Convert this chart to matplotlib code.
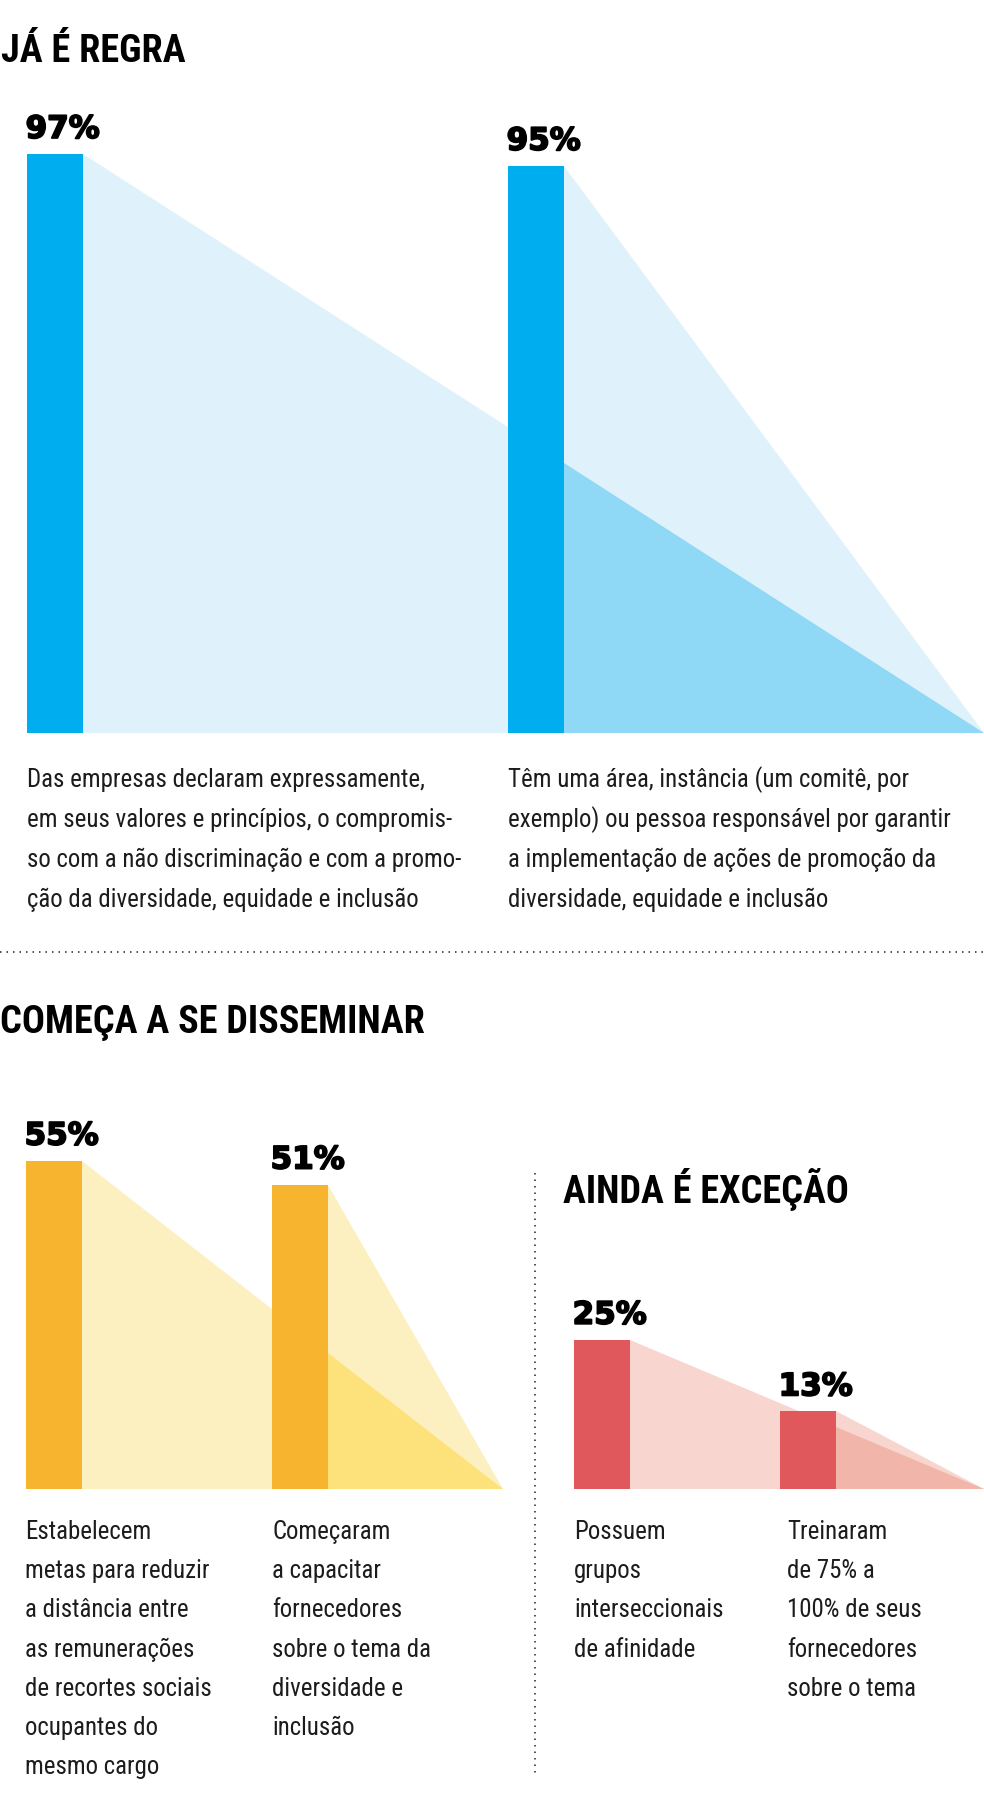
import matplotlib
matplotlib.use("Agg")
import matplotlib.pyplot as plt
from matplotlib import font_manager
from matplotlib.font_manager import FontProperties
from matplotlib.lines import Line2D
import matplotlib.patheffects as pe

# ---------------- data ----------------
regra_values = [97, 95]
regra_labels = ["97%", "95%"]
regra_texts = [
    ["Das empresas declaram expressamente,",
     "em seus valores e princípios, o compromis-",
     "so com a não discriminação e com a promo-",
     "ção da diversidade, equidade e inclusão"],
    ["Têm uma área, instância (um comitê, por",
     "exemplo) ou pessoa responsável por garantir",
     "a implementação de ações de promoção da",
     "diversidade, equidade e inclusão"],
]

dissem_values = [55, 51]
dissem_labels = ["55%", "51%"]
dissem_texts = [
    ["Estabelecem", "metas para reduzir", "a distância entre",
     "as remunerações", "de recortes sociais", "ocupantes do", "mesmo cargo"],
    ["Começaram", "a capacitar", "fornecedores", "sobre o tema da",
     "diversidade e", "inclusão"],
]

excecao_values = [25, 13]
excecao_labels = ["25%", "13%"]
excecao_texts = [
    ["Possuem", "grupos", "interseccionais", "de afinidade"],
    ["Treinaram", "de 75% a", "100% de seus", "fornecedores", "sobre o tema"],
]

titles = ["JÁ É REGRA", "COMEÇA A SE DISSEMINAR", "AINDA É EXCEÇÃO"]

# ---------------- fonts: look for a narrow / condensed face ----------------
def _w(e):
    w = e.weight
    if isinstance(w, str):
        w = font_manager.weight_dict.get(w, 400)
    return int(w)

def _narrow_rank(e):
    fn = e.fname.lower().replace("-", "").replace("_", "")
    nm = e.name.lower()
    if "extracondensed" in fn or "ultracondensed" in fn:
        return 3
    if "semicondensed" in fn:
        return 4
    if "narrow" in nm or "narrow" in fn or "condensed" in nm or "condensed" in fn \
            or str(e.stretch) in ("condensed",):
        return 1
    return None

def _fam_rank(e):
    nm = e.name.lower()
    for i, key in enumerate(["liberation sans narrow", "roboto condensed", "noto sans",
                             "open sans", "dejavu sans", "liberation"]):
        if nm.startswith(key):
            return i
    return 9

cands = []
for e in font_manager.fontManager.ttflist:
    if e.style != "normal":
        continue
    r = _narrow_rank(e)
    if r is None:
        continue
    if not e.fname.lower().endswith((".ttf", ".otf")):
        continue
    cands.append(e)

def choose(target_w):
    best = None
    for e in cands:
        key = (_fam_rank(e), _narrow_rank(e), abs(_w(e) - target_w))
        if best is None or key < best[0]:
            best = (key, e)
    return best[1] if best else None

reg = choose(400)
bold = None
if reg is not None:
    same = [e for e in cands if e.name == reg.name and _narrow_rank(e) == _narrow_rank(reg)]
    same.sort(key=lambda e: abs(_w(e) - 700))
    bold = same[0] if same and _w(same[0]) >= 600 else choose(700)

FP_BODY = FontProperties(fname=reg.fname) if reg is not None else FontProperties(family="DejaVu Sans")
FP_TITLE = (FontProperties(fname=bold.fname) if bold is not None
            else FontProperties(family="DejaVu Sans", weight="bold"))
FP_PCT = FontProperties(family="DejaVu Sans", weight="bold")

INK = "#1d1b1c"

W, H = 984, 1803
fig = plt.figure(figsize=(W / 100, H / 100), dpi=100)
fig.patch.set_facecolor("white")
renderer = fig.canvas.get_renderer()

def fit_size(text, fp, target_px, max_size):
    t = fig.text(0, 0, text, fontproperties=fp, fontsize=20)
    w = t.get_window_extent(renderer).width
    t.remove()
    return min(20.0 * target_px / w, max_size)

BODY_SIZE = fit_size(regra_texts[0][0], FP_BODY, 398, 24)
TITLE_SIZE = fit_size(titles[1], FP_TITLE, 425, 33)
PCT_SIZE = fit_size("97%", FP_PCT, 74, 24)

def fx(x):
    return x / W

def fy(y):
    return 1 - y / H

# y scale: 100% = 597 px
PX100 = 597.0

def make_axes(baseline_px):
    ax = fig.add_axes([0, fy(baseline_px), 1, PX100 / H])
    ax.set_xlim(0, W)
    ax.set_ylim(0, 100)
    ax.axis("off")
    return ax

def draw_group(ax, lefts, width, end_x, vals, labels, bar_c, light_c, over_c):
    for l, v in zip(lefts, vals):
        ax.fill([l + width, l + width, end_x], [v, 0, 0], color=light_c, lw=0, zorder=1)
    x1 = lefts[0] + width
    x2 = lefts[1] + width
    y_line1 = vals[0] * (end_x - x2) / (end_x - x1)
    ax.fill([x2, x2, end_x], [min(y_line1, vals[1]), 0, 0], color=over_c, lw=0, zorder=2)
    ax.bar(lefts, vals, width=width, align="edge", color=bar_c, lw=0, zorder=3)
    for l, v, lab in zip(lefts, vals, labels):
        ax.annotate(lab, xy=(l, v), xytext=(-1, 11.5), textcoords="offset points",
                    ha="left", va="baseline", fontproperties=FP_PCT, fontsize=PCT_SIZE,
                    color="black", zorder=4,
                    path_effects=[pe.withStroke(linewidth=1.3, foreground="black")])

BW = 56

ax1 = make_axes(733)
draw_group(ax1, [27, 508], BW, 984, regra_values, regra_labels,
           "#00aeef", "#dff1fb", "#8fd8f6")

ax2 = make_axes(1489)
draw_group(ax2, [26, 272], BW, 503, dissem_values, dissem_labels,
           "#f7b52f", "#fdf0c0", "#fde27b")
draw_group(ax2, [574, 780], BW, 984, excecao_values, excecao_labels,
           "#e1585c", "#f8d6cf", "#f2b5aa")

def title(x, y, s):
    fig.text(fx(x), fy(y), s, fontproperties=FP_TITLE, fontsize=TITLE_SIZE,
             color="black", ha="left", va="baseline")

title(1, 62, titles[0])
title(0, 1033, titles[1])
title(563, 1203, titles[2])

def block(lines, x, y0, pitch):
    for i, s in enumerate(lines):
        fig.text(fx(x), fy(y0 + i * pitch), s, fontproperties=FP_BODY, fontsize=BODY_SIZE,
                 color=INK, ha="left", va="baseline")

block(regra_texts[0], 27, 787, 40)
block(regra_texts[1], 508, 787, 40)
block(dissem_texts[0], 25, 1539, 39.2)
block(dissem_texts[1], 272, 1539, 39.2)
block(excecao_texts[0], 574, 1539, 39.2)
block(excecao_texts[1], 787, 1539, 39.2)

fig.add_artist(Line2D([fx(0), fx(984)], [fy(952), fy(952)], transform=fig.transFigure,
                      color="#333333", lw=1.2, linestyle=(0, (0.9, 3.0)),
                      dash_capstyle="butt"))
fig.add_artist(Line2D([fx(535), fx(535)], [fy(1173), fy(1777)], transform=fig.transFigure,
                      color="#333333", lw=1.2, linestyle=(0, (0.9, 3.0)),
                      dash_capstyle="butt"))

fig.savefig("out.png", dpi=100, facecolor="white")
